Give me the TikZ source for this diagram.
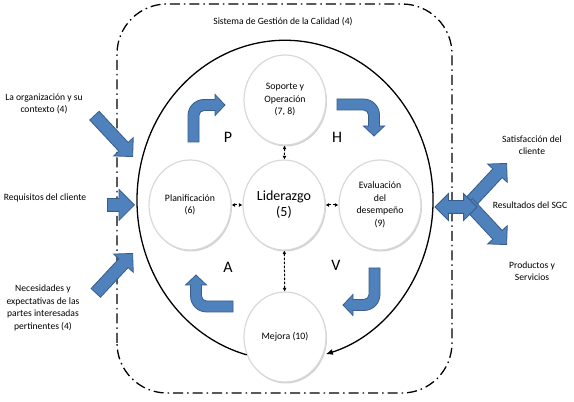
\documentclass[tikz,border=0pt]{standalone}
\usepackage{fontspec}
\setmainfont{Carlito}
\usetikzlibrary{shapes.geometric,shapes.arrows,arrows.meta,shadows}

\definecolor{blockblue}{HTML}{4F81BD}
\definecolor{blockedge}{HTML}{385D8A}

% bent block arrow: goes up from the tail, then turns right
\newcommand{\bentarrow}[1]{%
  \draw[blockarrow,#1] (0,0) -- (0,26.5)
    arc[start angle=180, end angle=90, radius=16pt] -- (27,42.5) -- (27,47.5)
    -- (37,37) -- (27,26.5) -- (27,31.5) -- (16,31.5)
    arc[start angle=90, end angle=180, radius=5pt] -- (11,0) -- cycle;}

\begin{document}
\begin{tikzpicture}[x=1pt, y=1pt,
    stage/.style={ellipse, draw=gray!30, line width=1.2pt, fill=white,
      minimum width=82pt, minimum height=90pt, inner sep=0pt, align=center,
      font=\fontsize{9.8}{12.5}\selectfont,
      drop shadow={opacity=0.35, shadow xshift=1pt, shadow yshift=-1.5pt}},
    note/.style={align=center, font=\fontsize{9.6}{12.5}\selectfont},
    phase/.style={font=\fontsize{16}{16}\selectfont},
    link/.style={<->, >={Latex[length=3.5pt,width=4pt]}, line width=1pt,
      dash pattern=on 2.5pt off 1.5pt},
    blockarrow/.style={fill=blockblue, draw=blockedge, line width=0.8pt},
    inarrow/.style={single arrow, blockarrow, inner xsep=0pt, inner ysep=6pt,
      single arrow head extend=7pt, anchor=tip, minimum height=#1},
    system/.style={line width=1.3pt, rounded corners=50pt,
      dash pattern=on 10pt off 4pt on 1.5pt off 4pt}]
  \useasboundingbox (0,0) rectangle (574,402);
  \fill[white] (0,0) rectangle (574,402);

  % system boundary
  \draw[system] (117,9) rectangle (452,398);
  \node[note] (sgc) at (283,380) {Sistema de Gestión de la Calidad (4)};

  % stages
  \node[stage] (sop) at (285,302) {Soporte y\\Operación\\(7, 8)};
  \node[stage, font=\fontsize{14}{16}\selectfont] (lid) at (284,197) {Liderazgo\\(5)};
  \node[stage] (pla) at (190,197) {Planificación\\(6)};
  \node[stage] (eva) at (380,197) {Evaluación\\del\\desempeño\\(9)};
  \node[stage] (mej) at (285,65) {Mejora (10)};

  \begin{scope}[link]
    \draw (sop) to (lid);
    \draw (pla) to (lid);
    \draw (lid) to (eva);
    \draw (lid) to (mej);
  \end{scope}

  % cycle
  \draw[line width=1.3pt, -{Latex[length=7pt,width=6pt]}] (mej.205)
    arc[start angle=255, end angle=-74, x radius=148pt, y radius=160pt];

  \node[phase] (p) at (228,265) {P};
  \node[phase] (h) at (337,265) {H};
  \node[phase] (a) at (228,135) {A};
  \node[phase] (v) at (336,137) {V};

  \bentarrow{shift={(188,260)}}
  \bentarrow{shift={(337,303)}, rotate=-90}
  \bentarrow{shift={(380,134)}, rotate=180}
  \bentarrow{shift={(233,90)}, rotate=90}

  % inputs
  \node[note] (org) at (44,298) {La organización y su\\contexto (4)};
  \node[note] (req) at (45,204) {Requisitos del cliente};
  \node[note] (nec) at (43,94) {Necesidades y\\expectativas de las\\partes interesadas\\pertinentes (4)};
  \node[inarrow=56pt, rotate=-47] (in1) at (133,245) {};
  \node[inarrow=27pt, single arrow head extend=9pt] (in2) at (135,197) {};
  \node[inarrow=54pt, rotate=47] (in3) at (133,149) {};

  % outputs
  \node[note] (sat) at (532,257) {Satisfacción del\\cliente};
  \node[note] (res) at (530,197) {Resultados del SGC};
  \node[note] (pro) at (532,131) {Productos y\\Servicios};
  \node[inarrow=57pt, rotate=47] (out1) at (507,239) {};
  \node[inarrow=57pt, rotate=-47] (out2) at (507,157) {};
  \node[double arrow, blockarrow, inner xsep=0pt, inner ysep=6pt,
    double arrow head extend=7pt, minimum height=42pt] (out0) at (456,195) {};
\end{tikzpicture}
\end{document}
